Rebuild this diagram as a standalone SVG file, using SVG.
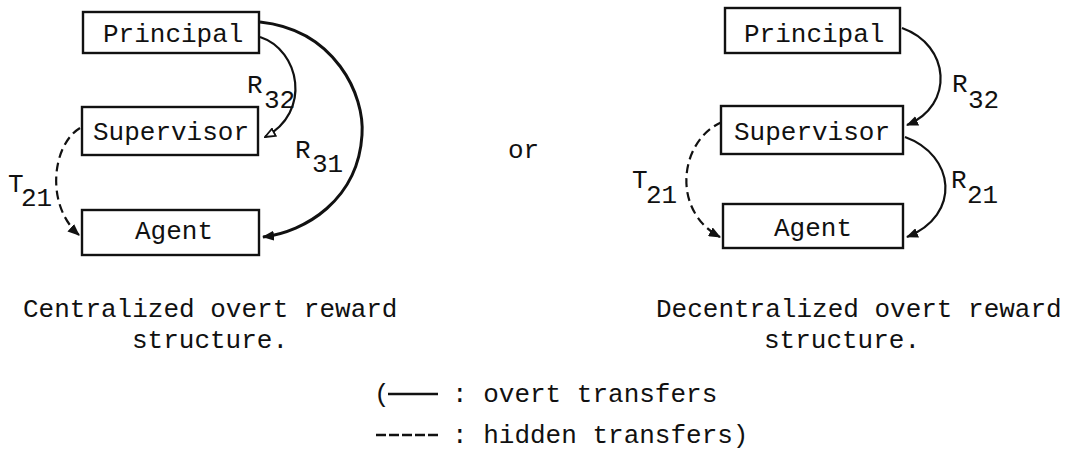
<svg xmlns="http://www.w3.org/2000/svg" width="1072" height="451" viewBox="0 0 1072 451">
<defs>
<style>
.box{fill:#fff;stroke:#111;stroke-width:2.4}
.t{font-family:"Liberation Mono","DejaVu Sans Mono",monospace;font-size:26px;fill:#111}
.c{fill:none;stroke:#111;stroke-width:2.2}
.h{fill:none;stroke:#111;stroke-width:2.2;stroke-dasharray:9 5}
</style>
<marker id="ah" viewBox="0 0 12 10" refX="11" refY="5" markerWidth="12" markerHeight="10" markerUnits="userSpaceOnUse" orient="auto">
<path d="M0,0 L12,5 L0,10 Z" fill="#111"/>
</marker>
<marker id="ao" viewBox="0 0 12 10" refX="11" refY="5" markerWidth="12" markerHeight="10" markerUnits="userSpaceOnUse" orient="auto">
<path d="M1,1 L11,5 L1,9 Z" fill="#fff" stroke="#111" stroke-width="1.8"/>
</marker>
</defs>
<rect width="1072" height="451" fill="#fff"/>

<g id="connectors">
<path class="c" d="M260,37 C300,50 312,112 265,137" marker-end="url(#ao)"/>
<path class="c" style="stroke-width:3" d="M260,22 C335,30 365,95 362,135 C358,200 305,232 263,237" marker-end="url(#ah)"/>
<path class="h" d="M80,128 C52,145 45,205 79,235" marker-end="url(#ah)"/>
<path class="c" d="M902,28 C950,45 955,105 907,125" marker-end="url(#ah)"/>
<path class="c" d="M905,137 C955,155 962,215 907,237" marker-end="url(#ah)"/>
<path class="h" d="M722,122 C680,140 670,210 720,237" marker-end="url(#ah)"/>
</g>

<g id="c-principal"><rect class="box" x="83" y="12" width="176" height="41"/><text class="t" x="103" y="42">Principal</text></g>
<g id="c-supervisor"><rect class="box" x="82" y="107" width="176" height="48"/><text class="t" x="93" y="140">Supervisor</text></g>
<g id="c-agent"><rect class="box" x="82" y="210" width="177" height="45"/><text class="t" x="135" y="239">Agent</text></g>

<g id="d-principal"><rect class="box" x="725" y="8" width="175" height="45"/><text class="t" x="744" y="42">Principal</text></g>
<g id="d-supervisor"><rect class="box" x="721" y="106" width="182" height="48"/><text class="t" x="734" y="140">Supervisor</text></g>
<g id="d-agent"><rect class="box" x="723" y="204" width="180" height="44"/><text class="t" x="774" y="236">Agent</text></g>

<g id="labels">
<text class="t" x="247" y="93">R</text><text class="t" x="264" y="108">32</text>
<text class="t" x="295" y="158">R</text><text class="t" x="312" y="172">31</text>
<text class="t" x="8" y="192">T</text><text class="t" x="21" y="206">21</text>
<text class="t" x="952" y="92">R</text><text class="t" x="968" y="108">32</text>
<text class="t" x="951" y="188">R</text><text class="t" x="967" y="203">21</text>
<text class="t" x="632" y="188">T</text><text class="t" x="646" y="203">21</text>
<text class="t" x="508" y="158">or</text>
</g>

<g id="captions">
<text class="t" x="23" y="317">Centralized overt reward</text>
<text class="t" x="132" y="348">structure.</text>
<text class="t" x="656" y="317">Decentralized overt reward</text>
<text class="t" x="764" y="348">structure.</text>
</g>

<g id="legend">
<text class="t" x="374" y="402">(</text>
<line x1="388" y1="394" x2="438" y2="394" stroke="#111" stroke-width="2.5"/>
<text class="t" x="452" y="402">: overt transfers</text>
<line x1="376" y1="435" x2="438" y2="435" stroke="#111" stroke-width="2.5" stroke-dasharray="10 3"/>
<text class="t" x="452" y="443">: hidden transfers)</text>
</g>
</svg>
